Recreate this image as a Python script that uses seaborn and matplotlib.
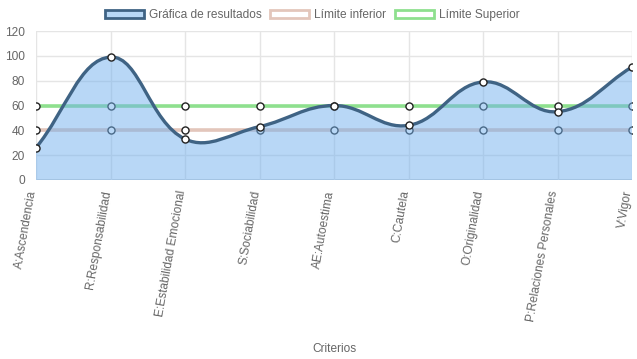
import numpy as np
import pandas as pd
import matplotlib
matplotlib.use("Agg")
import matplotlib.pyplot as plt
from matplotlib.path import Path
from matplotlib.patches import PathPatch, Patch
import seaborn as sns

criterios = ["A:Ascendencia", "R:Responsabilidad", "E:Estabilidad Emocional",
             "S:Sociabilidad", "AE:Autoestima", "C:Cautela", "O:Originalidad",
             "P:Relaciones Personales", "V:Vigor"]
resultados = [26, 99, 33, 43, 60, 44, 79, 55, 91]
limite_inferior = [40, 40, 40, 40, 40, 40, 40, 40, 40]
limite_superior = [60, 60, 60, 60, 60, 60, 60, 60, 60]

sns.set_theme(style="whitegrid")
plt.rcParams['font.family'] = ['Liberation Sans', 'DejaVu Sans']

fig = plt.figure(figsize=(6.37, 3.59), dpi=100)
ax = fig.add_axes([36 / 637, 1 - 180 / 359, 596 / 637, 149 / 359])

x = np.arange(len(criterios))
df = pd.DataFrame({"x": x, "res": resultados, "inf": limite_inferior, "sup": limite_superior})

# limit lines (drawn under the filled dataset, like chart.js)
sns.lineplot(data=df, x="x", y="inf", color="#e3c6bb", linewidth=2.6, ax=ax, zorder=1)
sns.lineplot(data=df, x="x", y="sup", color="#8ee08e", linewidth=2.6, ax=ax, zorder=1)
for col in ["inf", "sup"]:
    sns.scatterplot(data=df, x="x", y=col, s=26, color="white", edgecolor="#222222",
                    linewidth=1.0, ax=ax, zorder=2)

# chart.js style bezier (tension 0.4) computed in pixel space
sx, sy = 74.5, 149 / 120
px = x * sx
py = np.array(resultados) * sy
t = 0.4
n = len(px)
cp_prev = np.zeros((n, 2))
cp_next = np.zeros((n, 2))
for i in range(n):
    p0 = np.array([px[max(i - 1, 0)], py[max(i - 1, 0)]])
    p1 = np.array([px[i], py[i]])
    p2 = np.array([px[min(i + 1, n - 1)], py[min(i + 1, n - 1)]])
    d01 = np.hypot(*(p1 - p0))
    d12 = np.hypot(*(p2 - p1))
    s01 = d01 / (d01 + d12)
    s12 = d12 / (d01 + d12)
    cp_prev[i] = p1 - t * s01 * (p2 - p0)
    cp_next[i] = p1 + t * s12 * (p2 - p0)
cp_prev[:, 1] = np.clip(cp_prev[:, 1], 0, 120 * sy)
cp_next[:, 1] = np.clip(cp_next[:, 1], 0, 120 * sy)

verts = [(px[0], py[0])]
codes = [Path.MOVETO]
for i in range(n - 1):
    verts += [tuple(cp_next[i]), tuple(cp_prev[i + 1]), (px[i + 1], py[i + 1])]
    codes += [Path.CURVE4] * 3
verts = [(vx / sx, vy / sy) for vx, vy in verts]

curve = Path(verts, codes)
fill_path = Path(verts + [(x[-1], 0), (x[0], 0), (x[0], resultados[0])],
                 codes + [Path.LINETO, Path.LINETO, Path.CLOSEPOLY])
ax.add_patch(PathPatch(fill_path, facecolor="#72b1ee", alpha=0.5, edgecolor="none", zorder=3))
ax.add_patch(PathPatch(curve, facecolor="none", edgecolor="#3f6384", linewidth=2.4, zorder=4))
sns.scatterplot(data=df, x="x", y="res", s=26, color="white", edgecolor="#222222",
                linewidth=1.0, ax=ax, zorder=5)

ax.set_xlim(0, len(criterios) - 1)
ax.set_ylim(0, 120)
ax.set_yticks(range(0, 121, 20))
ax.set_xticks(x)
ax.set_xticklabels(criterios, rotation=80, ha="right", va="baseline",
                   rotation_mode="anchor", fontsize=8.6, color="#666666")
ax.tick_params(axis="y", labelsize=8.6, labelcolor="#666666", length=6, color="#e5e5e5", width=1, pad=2)
ax.tick_params(axis="x", length=6, color="#e5e5e5", width=1, pad=2)
ax.grid(True, color="#e5e5e5", linewidth=1)
for s in ax.spines.values():
    s.set_visible(False)
ax.axhline(0, color="#d0d0d0", linewidth=2, zorder=0.5)
ax.set_xlabel("Criterios", fontsize=8.6, color="#666666", labelpad=0)
ax.xaxis.set_label_coords(0.5, -1.095)
ax.set_ylabel("")

handles = [
    Patch(facecolor="#b8d8f6", edgecolor="#3f6384", linewidth=2, label="Gráfica de resultados"),
    Patch(facecolor="white", edgecolor="#e3c6bb", linewidth=2, label="Límite inferior"),
    Patch(facecolor="white", edgecolor="#8ee08e", linewidth=2, label="Límite Superior"),
]
fig.legend(handles=handles, loc="center", bbox_to_anchor=(312 / 637, 1 - 15 / 359), ncol=3,
           frameon=False, fontsize=8.6, labelcolor="#666666", handlelength=3.3,
           handleheight=0.7, handletextpad=0.4, columnspacing=0.7)

fig.savefig("out.png", dpi=100)
